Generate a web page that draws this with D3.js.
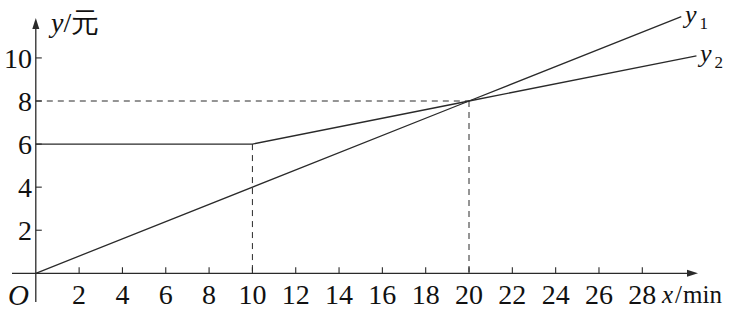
<!DOCTYPE html>
<html><head><meta charset="utf-8">
<script src="https://cdn.jsdelivr.net/npm/d3@7"></script>
<style>body{margin:0;background:#fff}svg{display:block}</style>
</head><body>
<script>
const xTicks = [2,4,6,8,10,12,14,16,18,20,22,24,26,28];
const yTicks = [2,4,6,8,10];
const y1Points = [[0,0],[20,8],[29.8,11.92]];
const y2Points = [[0,6],[10,6],[20,8],[30.5,10.1]];
const guides = [
  [[0,8],[20,8]],
  [[10,6],[10,0]],
  [[20,8],[20,0]]
];

const W=736,H=313;
const x = d3.scaleLinear().domain([0,28]).range([35.8,642.3]);
const y = d3.scaleLinear().domain([0,8]).range([273.3,101]);
const col="#2a2a2a";
const font="'Liberation Serif', 'Times New Roman', 'DejaVu Serif', serif";

const svg=d3.select("body").append("svg").attr("width",W).attr("height",H);

// axes
svg.append("line").attr("x1",12).attr("x2",690).attr("y1",y(0)).attr("y2",y(0)).attr("stroke",col).attr("stroke-width",1.3);
svg.append("line").attr("x1",x(0)).attr("x2",x(0)).attr("y1",302).attr("y2",26).attr("stroke",col).attr("stroke-width",1.3);
// arrows
svg.append("path").attr("d",`M${x(0)},18 L${x(0)-3.5},29 L${x(0)+3.5},29 Z`).attr("fill",col);
svg.append("path").attr("d",`M698,${y(0)} L687,${y(0)-3.5} L687,${y(0)+3.5} Z`).attr("fill",col);

// ticks
svg.selectAll(".xt").data(xTicks).join("line").attr("x1",d=>x(d)).attr("x2",d=>x(d)).attr("y1",y(0)).attr("y2",y(0)-6).attr("stroke",col).attr("stroke-width",1.1);
svg.selectAll(".yt").data(yTicks).join("line").attr("x1",x(0)).attr("x2",x(0)+6).attr("y1",d=>y(d)).attr("y2",d=>y(d)).attr("stroke",col).attr("stroke-width",1.1);

// tick labels
svg.selectAll(".xl").data(xTicks).join("text").attr("x",d=>x(d)).attr("y",304).attr("text-anchor","middle")
  .attr("font-family",font).attr("font-size",28).attr("fill","#111").text(d=>d);
svg.selectAll(".yl").data(yTicks).join("text").attr("x",32).attr("y",d=>y(d)+10).attr("text-anchor","end")
  .attr("font-family",font).attr("font-size",28).attr("fill","#111").text(d=>d);
svg.append("text").attr("x",8).attr("y",305).attr("font-family",font).attr("font-style","italic").attr("font-size",29).attr("fill","#111").text("O");

// axis titles
const yt=svg.append("text").attr("x",51).attr("y",32).attr("font-family",font).attr("font-size",28).attr("fill","#111");
yt.append("tspan").attr("font-style","italic").text("y");
yt.append("tspan").text("/元");
const xt=svg.append("text").attr("x",662).attr("y",303).attr("font-family",font).attr("font-size",25).attr("fill","#111");
xt.append("tspan").attr("font-style","italic").text("x");
xt.append("tspan").attr("dx",2).text("/");
xt.append("tspan").attr("dx",1).text("min");

// guides
const line=d3.line().x(d=>x(d[0])).y(d=>y(d[1]));
svg.selectAll(".g").data(guides).join("path").attr("d",line).attr("fill","none").attr("stroke",col).attr("stroke-width",1).attr("stroke-dasharray","6,5");

// series
svg.append("path").attr("d",line(y1Points)).attr("fill","none").attr("stroke",col).attr("stroke-width",1.3);
svg.append("path").attr("d",line(y2Points)).attr("fill","none").attr("stroke",col).attr("stroke-width",1.3);

// series labels
function lab(px,py,sub){
  const t=svg.append("text").attr("x",px).attr("y",py).attr("font-family",font).attr("font-size",26).attr("fill","#111");
  t.append("tspan").attr("font-style","italic").text("y");
  t.append("tspan").attr("font-size",17).attr("dy",6).attr("dx",3).text(sub);
}
lab(685,23,"1");
lab(700,62,"2");
</script>
</body></html>
